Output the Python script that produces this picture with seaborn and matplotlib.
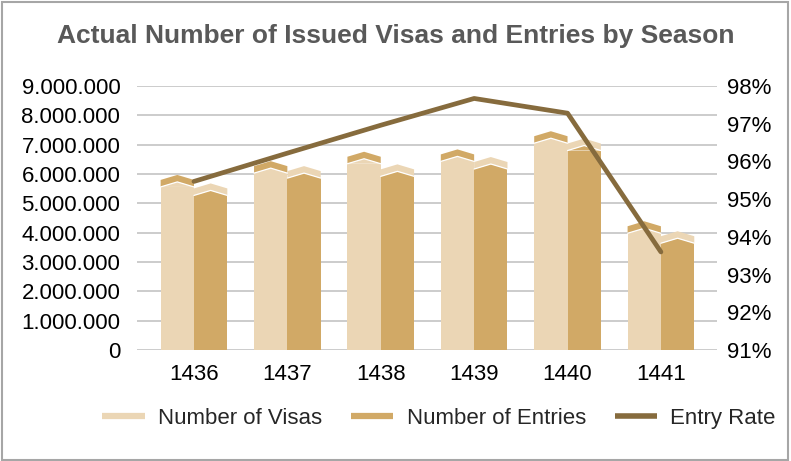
import matplotlib
matplotlib.use("Agg")
import matplotlib.pyplot as plt
import numpy as np
import pandas as pd
import seaborn as sns
from matplotlib import font_manager
from matplotlib.lines import Line2D
from matplotlib.patches import Polygon
from matplotlib.ticker import FuncFormatter

# data
seasons = ["1436", "1437", "1438", "1439", "1440", "1441"]
visas = [5.56e6, 6.03e6, 6.35e6, 6.43e6, 7.05e6, 3.98e6]
entries = [5.27e6, 5.86e6, 5.92e6, 6.17e6, 6.80e6, 3.64e6]
entry_rate = [95.47, 96.22, 96.96, 97.67, 97.28, 93.60]

visa_color = "#EBD6B5"
entry_color = "#D1A966"
line_color = "#866B3D"
grid_color = "#BFBFBF"

sns.set_theme(style="white")
plt.rcParams["font.family"] = ["Liberation Sans", "DejaVu Sans"]

installed = {f.name for f in font_manager.fontManager.ttflist}
title_family = "Liberation Sans Narrow" if "Liberation Sans Narrow" in installed else "Liberation Sans"

df = pd.DataFrame({
    "season": seasons * 2,
    "value": visas + entries,
    "series": ["Number of Visas"] * len(seasons) + ["Number of Entries"] * len(seasons),
})

fig = plt.figure(figsize=(7.91, 4.61), dpi=100)
ax = fig.add_axes([0.1732, 0.2408, 0.7332, 0.5726])

sns.barplot(data=df, x="season", y="value", hue="series", palette=[visa_color, entry_color],
            width=0.714, saturation=1, legend=False, linewidth=0, edgecolor="none", ax=ax)

ax.set_xlim(-0.61, 5.6)
ax.set_ylim(0, 9e6)
ax.set_yticks(np.arange(0, 9e6 + 1, 1e6))
ax.yaxis.set_major_formatter(FuncFormatter(lambda v, p: f"{int(v):,}".replace(",", ".")))
ax.grid(axis="y", color=grid_color, linewidth=1.1)
ax.set_axisbelow(True)
ax.set_xlabel("")
ax.set_ylabel("")
for s in ax.spines.values():
    s.set_visible(False)
ax.tick_params(axis="y", labelsize=16, pad=12, length=0, labelcolor="black")
ax.tick_params(axis="x", labelsize=16, pad=10, length=0, labelcolor="black")

# 3d-looking chevron caps on the bars
ax_px = ax.get_position().height * fig.get_figheight() * fig.dpi
unit = 9e6 / ax_px
rise = 5.0 * unit
thick = 7.0 * unit
cap_colors = [entry_color, visa_color]
body_colors = [visa_color, entry_color]
for cont, cap_c, body_c in zip(ax.containers, cap_colors, body_colors):
    for bar in cont:
        x0 = bar.get_x()
        x1 = x0 + bar.get_width()
        xc = (x0 + x1) / 2
        h = bar.get_height()
        ax.add_patch(Polygon([(x0, h), (xc, h + rise), (x1, h)], closed=True,
                             facecolor=body_c, edgecolor="none", zorder=2))
        ax.add_patch(Polygon([(x0, h), (xc, h + rise), (x1, h), (x1, h + thick),
                              (xc, h + rise + thick), (x0, h + thick)], closed=True,
                             facecolor=cap_c, edgecolor="none", zorder=2))
        ax.plot([x0, xc, x1], [h, h + rise, h], color="white", lw=0.9, zorder=2.5)

ax2 = ax.twinx()
sns.lineplot(x=np.arange(len(seasons)), y=entry_rate, color=line_color, linewidth=3.4, ax=ax2)
ax2.set_xlim(-0.61, 5.6)
ax2.set_ylim(91, 98)
ax2.set_yticks(np.arange(91, 99, 1))
ax2.yaxis.set_major_formatter(FuncFormatter(lambda v, p: f"{int(round(v))}%"))
ax2.grid(False)
for s in ax2.spines.values():
    s.set_visible(False)
ax2.tick_params(axis="y", labelsize=16, pad=7, length=0, labelcolor="black")

fig.text(0.5, 0.922, "Actual Number of Issued Visas and Entries by Season", ha="center", va="center",
         fontsize=19, fontweight="bold", color="#595959", family=title_family)

handles = [Line2D([0], [0], color=visa_color, lw=4.5, solid_capstyle="butt"),
           Line2D([0], [0], color=entry_color, lw=4.5, solid_capstyle="butt"),
           Line2D([0], [0], color=line_color, lw=4, solid_capstyle="butt")]
fig.legend(handles, ["Number of Visas", "Number of Entries", "Entry Rate"], loc="center",
           bbox_to_anchor=(0.555, 0.093), ncol=3, frameon=False, fontsize=16,
           handlelength=1.9, handletextpad=0.6, columnspacing=1.3)

fig.add_artist(plt.Rectangle((0.002, 0.003), 0.994, 0.993, transform=fig.transFigure,
                             fill=False, edgecolor="#A6A6A6", linewidth=1.5))

fig.savefig("out.png", dpi=100)
